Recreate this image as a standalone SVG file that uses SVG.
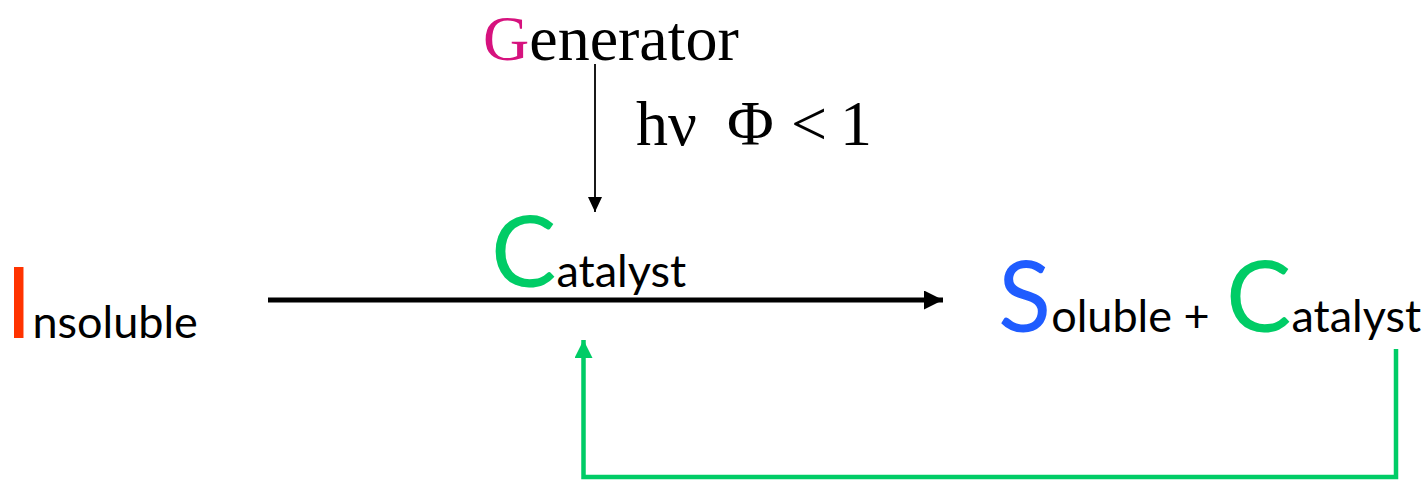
<svg xmlns="http://www.w3.org/2000/svg" width="1427" height="480" viewBox="0 0 1427 480">
<style>
.serif{font-family:"Liberation Serif","Times New Roman",serif;fill:#000}
.sans{font-family:Lato,"Open Sans","DejaVu Sans",sans-serif;fill:#000}
.big{font-size:98px}
.small{font-size:45px}
.green{fill:#00CC66}
.red{fill:#FF3300}
.blue{fill:#1F5CFF}
.mag{fill:#D6127E}
.gline{stroke:#00CC66;fill:none;stroke-width:4.5}
</style>
<defs>
<marker id="ahBlack" markerWidth="15" markerHeight="14" refX="15" refY="7" orient="auto" markerUnits="userSpaceOnUse" viewBox="0 0 15 14">
<path d="M0,0 L15,7 L0,14 Z" fill="#000"/>
</marker>
<marker id="ahBig" markerWidth="19" markerHeight="19" refX="19" refY="9.5" orient="auto" markerUnits="userSpaceOnUse" viewBox="0 0 19 19">
<path d="M0,0 L19,9.5 L0,19 Z" fill="#000"/>
</marker>
<marker id="ahGreen" markerWidth="18" markerHeight="18" refX="18" refY="9" orient="auto" markerUnits="userSpaceOnUse" viewBox="0 0 18 18">
<path d="M0,0 L18,9 L0,18 Z" fill="#00CC66"/>
</marker>
</defs>
<g id="connectors">
<line x1="595" y1="64" x2="595" y2="212" stroke="#000" stroke-width="1.8" marker-end="url(#ahBlack)"/>
<line x1="268" y1="300" x2="943" y2="300" stroke="#000" stroke-width="5" marker-end="url(#ahBig)"/>
<polyline class="gline" points="1396,349 1396,477 583.5,477 583.5,340" marker-end="url(#ahGreen)"/>
</g>
<g id="generator">
<text class="serif" x="483" y="60" font-size="64"><tspan class="mag">G</tspan>enerator</text>
</g>
<g id="label-hv">
<text class="serif" font-size="64" y="145"><tspan x="636">hν</tspan><tspan x="727">Φ</tspan><tspan x="791">&lt;</tspan><tspan x="840">1</tspan></text>
</g>
<g id="catalyst">
<text class="sans" x="491" y="287"><tspan class="big green">C</tspan><tspan class="small">atalyst</tspan></text>
</g>
<g id="insoluble">
<text class="sans" x="5" y="338"><tspan class="big red">I</tspan><tspan class="small">nsoluble</tspan></text>
</g>
<g id="soluble-catalyst">
<text class="sans" x="998" y="332"><tspan class="big blue">S</tspan><tspan class="small">oluble + </tspan><tspan class="big green" x="1226">C</tspan><tspan class="small">atalyst</tspan></text>
</g>
</svg>
